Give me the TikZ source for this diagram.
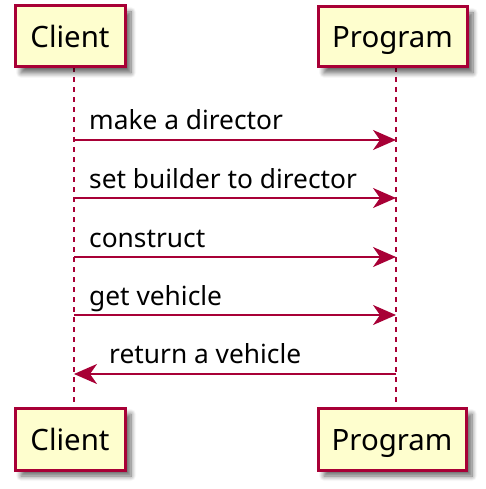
\documentclass[tikz,border=0pt]{standalone}
\usepackage{fontspec}
\setmainfont{Noto Sans}
\usetikzlibrary{arrows.meta,shadows.blur}
\definecolor{umlred}{HTML}{A80036}
\definecolor{umlfill}{HTML}{FEFECE}
\tikzset{
  participant/.style={draw=umlred, fill=umlfill, line width=3pt, inner sep=0pt,
    text height=22pt, text depth=0pt,
    font=\fontsize{29.4}{34}\selectfont,
    blur shadow={shadow xshift=6pt, shadow yshift=-6pt, shadow blur steps=8, shadow blur radius=5pt, shadow opacity=60}},
  lifeline/.style={draw=umlred, line width=1.4pt, dash pattern=on 5pt off 5pt},
  msg/.style={draw=umlred, line width=2pt, -{Stealth[length=23pt,width=20pt,inset=7pt]}},
  msglabel/.style={anchor=base west, inner sep=0pt, font=\fontsize{26.3}{31}\selectfont}
}
\begin{document}
\begin{tikzpicture}[x=1pt,y=-1pt]
\useasboundingbox (0,0) rectangle (485,489);
% lifelines
\coordinate (ct) at (74,67);
\coordinate (cb) at (74,408);
\coordinate (pt) at (396,67);
\coordinate (pb) at (396,408);
\draw[lifeline] (ct) -- (cb);
\draw[lifeline] (pt) -- (pb);
% participants
\node[participant, minimum width=110pt, minimum height=61pt] (client) at (70,36.5) {Client};
\node[participant, minimum width=149pt, minimum height=60pt] (program) at (392.5,37) {Program};
\node[participant, minimum width=110pt, minimum height=62pt] (client2) at (70,439) {Client};
\node[participant, minimum width=148pt, minimum height=62pt] (program2) at (392,439) {Program};
% message anchors
\coordinate (c1) at (74,140); \coordinate (p1) at (396,140);
\coordinate (c2) at (74,198); \coordinate (p2) at (396,198);
\coordinate (c3) at (74,257); \coordinate (p3) at (396,257);
\coordinate (c4) at (74,315); \coordinate (p4) at (396,315);
\coordinate (c5) at (74,374); \coordinate (p5) at (396,374);
\draw[msg] (c1) -- (p1);
\draw[msg] (c2) -- (p2);
\draw[msg] (c3) -- (p3);
\draw[msg] (c4) -- (p4);
\draw[msg] (p5) -- (c5);
\node[msglabel] (l1) at (89,130) {make a director};
\node[msglabel] (l2) at (89,188) {set builder to director};
\node[msglabel] (l3) at (89,247) {construct};
\node[msglabel] (l4) at (89,305) {get vehicle};
\node[msglabel] (l5) at (109,363) {return a vehicle};
\end{tikzpicture}
\end{document}
